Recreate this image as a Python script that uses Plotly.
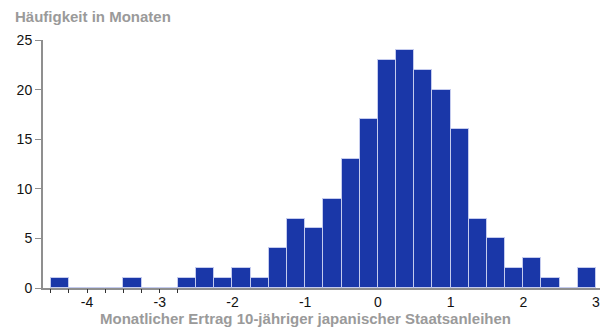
import plotly.graph_objects as go

# Histogram data: left bin edges (width 0.25) and monthly counts
bin_left = [-4.5, -4.25, -4.0, -3.75, -3.5, -3.25, -3.0, -2.75, -2.5, -2.25,
            -2.0, -1.75, -1.5, -1.25, -1.0, -0.75, -0.5, -0.25, 0.0, 0.25,
            0.5, 0.75, 1.0, 1.25, 1.5, 1.75, 2.0, 2.25, 2.5, 2.75]
counts = [1, 0, 0, 0, 1, 0, 0, 1, 2, 1,
          2, 1, 4, 7, 6, 9, 13, 17, 23, 24,
          22, 20, 16, 7, 5, 2, 3, 1, 0, 2]
bin_width = 0.25

x_tick_vals = [-4, -3, -2, -1, 0, 1, 2, 3]
x_tick_text = ["-4", "-3", "-2", "-1", "0", "1", "2", "3"]
x_small_ticks = [-4.5, -4.25, -4.0, -3.75, -3.5, -3.25, -3.0, -2.75]
y_tick_vals = [0, 5, 10, 15, 20, 25]

x_title = "Monatlicher Ertrag 10-jähriger japanischer Staatsanleihen"
y_title = "Häufigkeit in Monaten"

FONT = "Liberation Sans, Arial, Helvetica, sans-serif"
BAR = "#1a37a8"
AXIS = "#8f8f8f"
TITLE_GRAY = "#9a9a9a"
XR = [-4.606, 3.055]

fig = go.Figure()
fig.add_trace(go.Bar(
    x=bin_left, y=counts, width=bin_width, offset=0,
    marker=dict(color=BAR, line=dict(color="#c4cbee", width=1)),
    showlegend=False, hoverinfo="skip",
))
# invisible trace so the secondary x axis (small ticks) is rendered
fig.add_trace(go.Scatter(x=[x_small_ticks[0]], y=[0], xaxis="x2", mode="markers",
                         marker=dict(opacity=0), showlegend=False, hoverinfo="skip"))

fig.update_layout(
    width=608, height=327,
    margin=dict(l=43, r=8, t=40, b=39, autoexpand=False),
    paper_bgcolor="white", plot_bgcolor="white",
    font=dict(family=FONT, size=14, color="#111111"),
    bargap=0,
    xaxis=dict(
        range=XR, tickmode="array", tickvals=x_tick_vals, ticktext=x_tick_text,
        ticks="", automargin=False,
        showline=True, linecolor=AXIS, linewidth=2, showgrid=False, zeroline=False,
        tickfont=dict(size=14, color="#111111"),
    ),
    xaxis2=dict(
        range=XR, overlaying="x", anchor="y", side="bottom", automargin=False,
        tickmode="array", tickvals=x_small_ticks, showticklabels=False,
        ticks="outside", ticklen=4, tickwidth=1, tickcolor="#333333",
        showline=False, showgrid=False, zeroline=False,
    ),
    yaxis=dict(
        range=[0, 25], tickmode="array", tickvals=y_tick_vals, automargin=False,
        ticks="outside", ticklen=6, tickwidth=1, tickcolor=AXIS,
        showline=True, linecolor=AXIS, linewidth=2, showgrid=False, zeroline=False,
        tickfont=dict(size=14, color="#111111"),
    ),
    annotations=[
        dict(text="<b>" + y_title + "</b>", xref="paper", yref="paper",
             x=-0.053, y=1.093, xanchor="left", yanchor="middle", showarrow=False,
             font=dict(size=15, color=TITLE_GRAY, family=FONT)),
        dict(text="<b>" + x_title + "</b>", xref="paper", yref="paper",
             x=0.472, y=-0.123, xanchor="center", yanchor="middle", showarrow=False,
             font=dict(size=15, color=TITLE_GRAY, family=FONT)),
    ],
)

fig.write_html("out.html", post_script="document.body.style.margin='0';",
               config={"displayModeBar": False})
